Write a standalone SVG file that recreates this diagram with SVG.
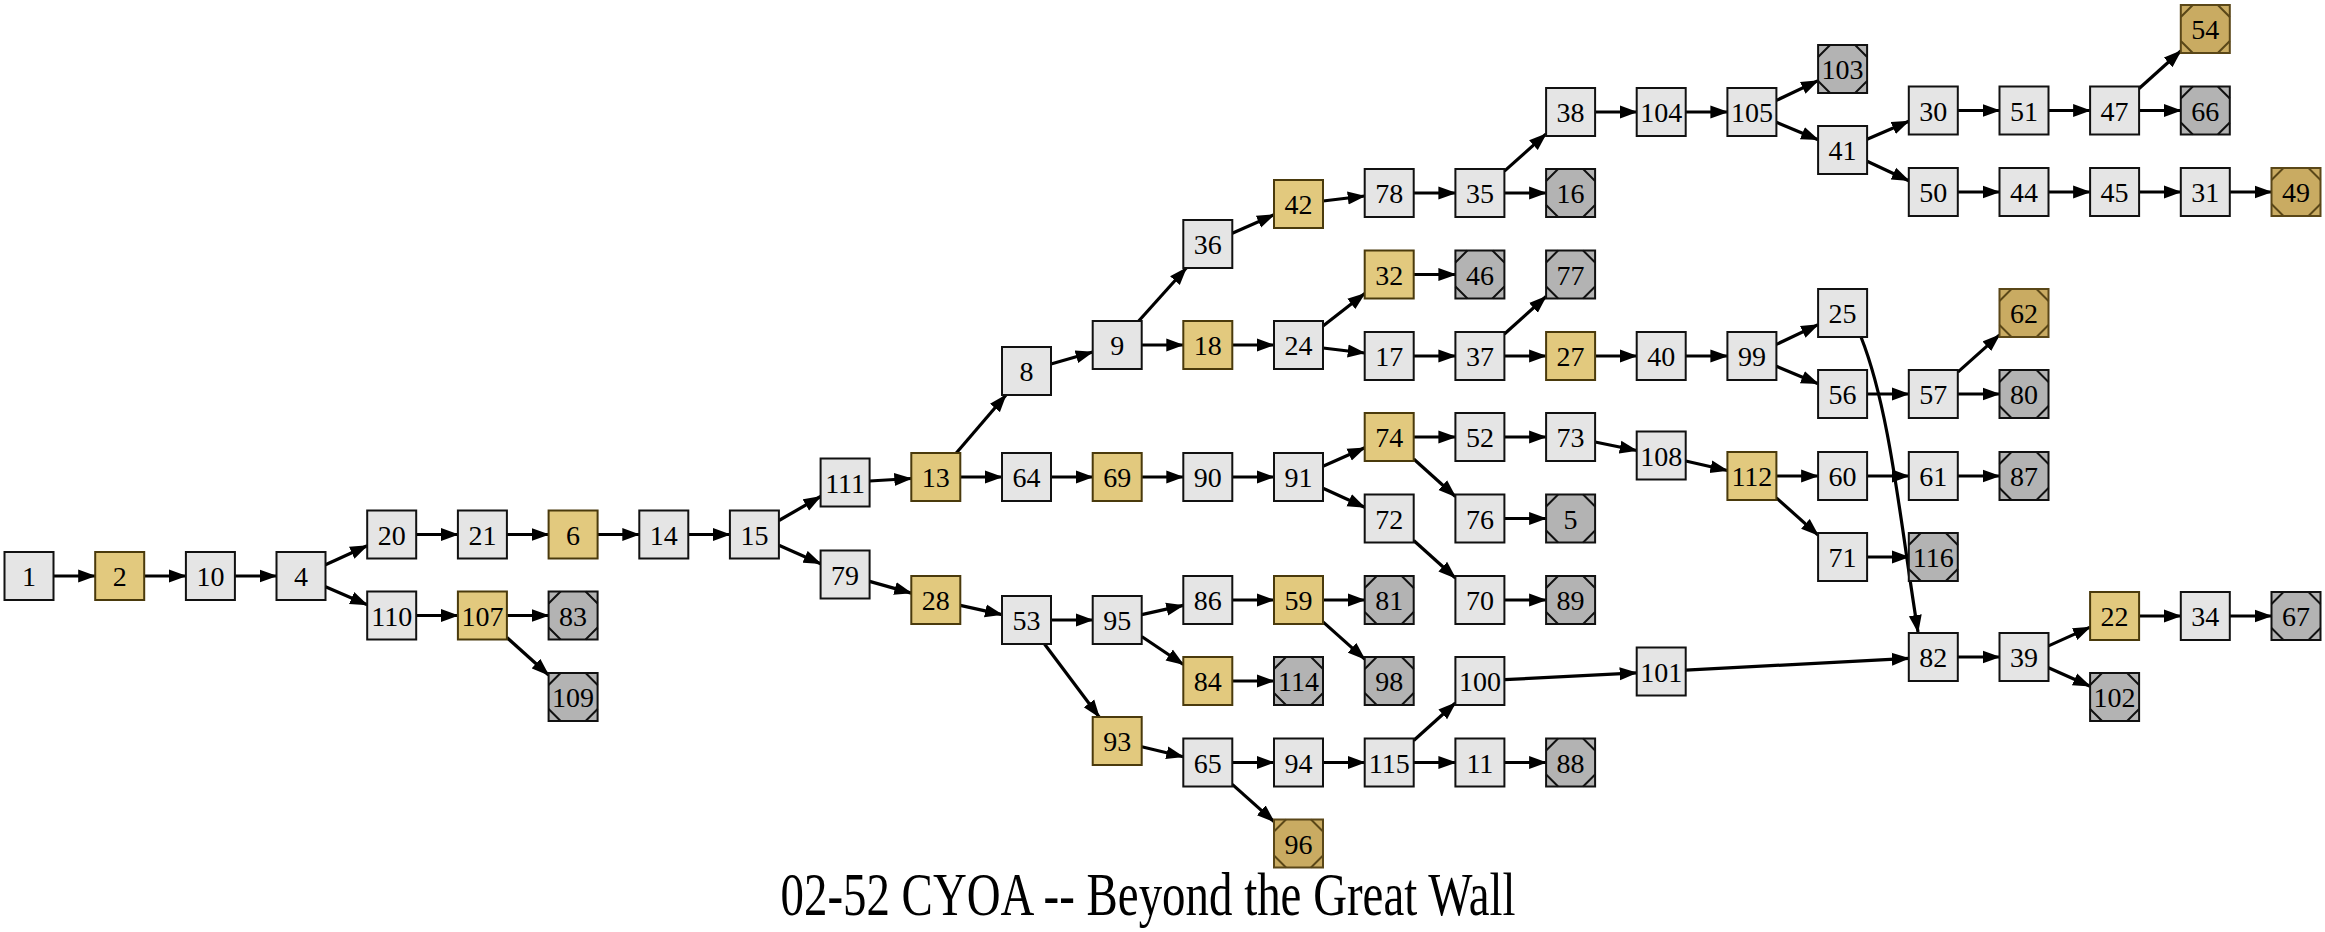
<svg xmlns="http://www.w3.org/2000/svg" xmlns:xlink="http://www.w3.org/1999/xlink" width="2325" height="932" viewBox="0 0 2325 932">
<style>
.p{fill:#e5e5e5;stroke:#111;stroke-width:2}
.g{fill:#e2c97e;stroke:#4a3a0c;stroke-width:2}
.t{fill:#b3b3b3;stroke:#111;stroke-width:2}
.tg{fill:#c9ab62;stroke:#5a4718;stroke-width:2}
.oc{stroke:#111;stroke-width:2;fill:none}
.ocg{stroke:#5a4718;stroke-width:2;fill:none}
text{font-family:"Liberation Serif","Times New Roman",serif;font-size:28px;text-anchor:middle;fill:#000}
g[id^="n"] text{transform:translateY(1px)}
.title{font-size:62px}
#edges line,#edges path{stroke:#000;stroke-width:3.2;fill:none;marker-end:url(#ah)}
</style>
<defs>
<marker id="ah" markerUnits="userSpaceOnUse" markerWidth="18" markerHeight="14" refX="17" refY="7" orient="auto"><path d="M0,0.5 L18,7 L0,13.5 z" fill="#000"/></marker>
<path id="oct" d="M0,12 L12,0 M37,0 L49,12 M49,36 L37,48 M12,48 L0,36"/>
</defs>
<rect width="2325" height="932" fill="#fff"/>
<g id="edges">
<line x1="53.5" y1="576" x2="95.2" y2="576"/>
<line x1="144.2" y1="576" x2="185.9" y2="576"/>
<line x1="234.9" y1="576" x2="276.5" y2="576"/>
<line x1="325.5" y1="564.8" x2="367.2" y2="545.7"/>
<line x1="325.5" y1="586.7" x2="367.2" y2="604.8"/>
<line x1="416.2" y1="534.5" x2="457.9" y2="534.5"/>
<line x1="506.9" y1="534.5" x2="548.6" y2="534.5"/>
<line x1="597.6" y1="534.5" x2="639.3" y2="534.5"/>
<line x1="688.3" y1="534.5" x2="729.9" y2="534.5"/>
<line x1="778.9" y1="520.5" x2="820.6" y2="496.5"/>
<line x1="778.9" y1="545.3" x2="820.6" y2="563.7"/>
<line x1="416.2" y1="615.5" x2="457.9" y2="615.5"/>
<line x1="506.9" y1="615.5" x2="548.6" y2="615.5"/>
<line x1="506.9" y1="637.5" x2="548.6" y2="675"/>
<line x1="869.6" y1="481" x2="911.3" y2="478.5"/>
<line x1="956.3" y1="453" x2="1006" y2="395"/>
<line x1="960.3" y1="477" x2="1002" y2="477"/>
<line x1="869.6" y1="581.4" x2="911.3" y2="593.1"/>
<line x1="960.3" y1="605.4" x2="1002" y2="614.6"/>
<line x1="1051" y1="364" x2="1092.7" y2="352"/>
<line x1="1138.7" y1="321" x2="1186.3" y2="268"/>
<line x1="1141.7" y1="345" x2="1183.3" y2="345"/>
<line x1="1232.3" y1="233.2" x2="1274" y2="214.8"/>
<line x1="1323" y1="201" x2="1364.7" y2="196"/>
<line x1="1413.7" y1="193" x2="1455.4" y2="193"/>
<line x1="1504.4" y1="171.1" x2="1546.1" y2="133.9"/>
<line x1="1504.4" y1="193" x2="1546.1" y2="193"/>
<line x1="1595.1" y1="112" x2="1636.7" y2="112"/>
<line x1="1685.7" y1="112" x2="1727.4" y2="112"/>
<line x1="1776.4" y1="100.4" x2="1818.1" y2="80.6"/>
<line x1="1776.4" y1="122.3" x2="1818.1" y2="139.7"/>
<line x1="1867.1" y1="139.3" x2="1908.8" y2="121.2"/>
<line x1="1867.1" y1="161.3" x2="1908.8" y2="180.7"/>
<line x1="1957.8" y1="110.5" x2="1999.5" y2="110.5"/>
<line x1="2048.5" y1="110.5" x2="2090.1" y2="110.5"/>
<line x1="2139.1" y1="88.5" x2="2180.8" y2="51"/>
<line x1="2139.1" y1="110.5" x2="2180.8" y2="110.5"/>
<line x1="1957.8" y1="192" x2="1999.5" y2="192"/>
<line x1="2048.5" y1="192" x2="2090.1" y2="192"/>
<line x1="2139.1" y1="192" x2="2180.8" y2="192"/>
<line x1="2229.8" y1="192" x2="2271.5" y2="192"/>
<line x1="1232.3" y1="345" x2="1274" y2="345"/>
<line x1="1323" y1="326" x2="1364.7" y2="293.5"/>
<line x1="1323" y1="348" x2="1364.7" y2="353"/>
<line x1="1413.7" y1="274.5" x2="1455.4" y2="274.5"/>
<line x1="1413.7" y1="356" x2="1455.4" y2="356"/>
<line x1="1504.4" y1="334" x2="1546.1" y2="296.5"/>
<line x1="1504.4" y1="356" x2="1546.1" y2="356"/>
<line x1="1595.1" y1="356" x2="1636.7" y2="356"/>
<line x1="1685.7" y1="356" x2="1727.4" y2="356"/>
<line x1="1776.4" y1="344.4" x2="1818.1" y2="324.6"/>
<line x1="1776.4" y1="366.3" x2="1818.1" y2="383.7"/>
<path d="M1861,337 C1890,410 1900,520 1918,632"/>
<line x1="1867.1" y1="394" x2="1908.8" y2="394"/>
<line x1="1957.8" y1="372.1" x2="1999.5" y2="334.9"/>
<line x1="1957.8" y1="394" x2="1999.5" y2="394"/>
<line x1="1051" y1="477" x2="1092.7" y2="477"/>
<line x1="1141.7" y1="477" x2="1183.3" y2="477"/>
<line x1="1232.3" y1="477" x2="1274" y2="477"/>
<line x1="1323" y1="466.2" x2="1364.7" y2="447.8"/>
<line x1="1323" y1="488.2" x2="1364.7" y2="507.3"/>
<line x1="1413.7" y1="437" x2="1455.4" y2="437"/>
<line x1="1413.7" y1="459" x2="1455.4" y2="496.5"/>
<line x1="1504.4" y1="437" x2="1546.1" y2="437"/>
<line x1="1595.1" y1="442" x2="1636.7" y2="450.5"/>
<line x1="1685.7" y1="461" x2="1727.4" y2="470.5"/>
<line x1="1776.4" y1="476" x2="1818.1" y2="476"/>
<line x1="1776.4" y1="497.9" x2="1818.1" y2="535.1"/>
<line x1="1867.1" y1="476" x2="1908.8" y2="476"/>
<line x1="1957.8" y1="476" x2="1999.5" y2="476"/>
<line x1="1867.1" y1="557" x2="1908.8" y2="557"/>
<line x1="1504.4" y1="518.5" x2="1546.1" y2="518.5"/>
<line x1="1413.7" y1="540.5" x2="1455.4" y2="578"/>
<line x1="1504.4" y1="600" x2="1546.1" y2="600"/>
<line x1="1051" y1="620" x2="1092.7" y2="620"/>
<line x1="1044.5" y1="644" x2="1099.2" y2="717"/>
<line x1="1141.7" y1="614.6" x2="1183.3" y2="605.4"/>
<line x1="1141.7" y1="636.5" x2="1183.3" y2="664.5"/>
<line x1="1232.3" y1="600" x2="1274" y2="600"/>
<line x1="1323" y1="600" x2="1364.7" y2="600"/>
<line x1="1323" y1="621.9" x2="1364.7" y2="659.1"/>
<line x1="1232.3" y1="681" x2="1274" y2="681"/>
<line x1="1141.7" y1="746.8" x2="1183.3" y2="756.7"/>
<line x1="1232.3" y1="762.5" x2="1274" y2="762.5"/>
<line x1="1232.3" y1="784.4" x2="1274" y2="821.6"/>
<line x1="1323" y1="762.5" x2="1364.7" y2="762.5"/>
<line x1="1413.7" y1="740.5" x2="1455.4" y2="703"/>
<line x1="1413.7" y1="762.5" x2="1455.4" y2="762.5"/>
<line x1="1504.4" y1="762.5" x2="1546.1" y2="762.5"/>
<line x1="1504.4" y1="679.7" x2="1636.7" y2="672.8"/>
<line x1="1685.7" y1="670.2" x2="1908.8" y2="658.3"/>
<line x1="1957.8" y1="657" x2="1999.5" y2="657"/>
<line x1="2048.5" y1="645.9" x2="2090.1" y2="627.1"/>
<line x1="2048.5" y1="667.8" x2="2090.1" y2="686.2"/>
<line x1="2139.1" y1="616" x2="2180.8" y2="616"/>
<line x1="2229.8" y1="616" x2="2271.5" y2="616"/>
</g>
<g id="n1"><rect class="p" x="4.5" y="552" width="49" height="48"/><text x="29" y="585">1</text></g>
<g id="n2"><rect class="g" x="95.2" y="552" width="49" height="48"/><text x="119.7" y="585">2</text></g>
<g id="n10"><rect class="p" x="185.9" y="552" width="49" height="48"/><text x="210.4" y="585">10</text></g>
<g id="n4"><rect class="p" x="276.5" y="552" width="49" height="48"/><text x="301" y="585">4</text></g>
<g id="n20"><rect class="p" x="367.2" y="510.5" width="49" height="48"/><text x="391.7" y="543.5">20</text></g>
<g id="n110"><rect class="p" x="367.2" y="591.5" width="49" height="48"/><text x="391.7" y="624.5">110</text></g>
<g id="n21"><rect class="p" x="457.9" y="510.5" width="49" height="48"/><text x="482.4" y="543.5">21</text></g>
<g id="n107"><rect class="g" x="457.9" y="591.5" width="49" height="48"/><text x="482.4" y="624.5">107</text></g>
<g id="n6"><rect class="g" x="548.6" y="510.5" width="49" height="48"/><text x="573.1" y="543.5">6</text></g>
<g id="n83"><rect class="t" x="548.6" y="591.5" width="49" height="48"/><use href="#oct" class="oc" x="548.6" y="591.5"/><text x="573.1" y="624.5">83</text></g>
<g id="n109"><rect class="t" x="548.6" y="673" width="49" height="48"/><use href="#oct" class="oc" x="548.6" y="673"/><text x="573.1" y="706">109</text></g>
<g id="n14"><rect class="p" x="639.3" y="510.5" width="49" height="48"/><text x="663.8" y="543.5">14</text></g>
<g id="n15"><rect class="p" x="729.9" y="510.5" width="49" height="48"/><text x="754.4" y="543.5">15</text></g>
<g id="n111"><rect class="p" x="820.6" y="458.5" width="49" height="48"/><text x="845.1" y="491.5">111</text></g>
<g id="n79"><rect class="p" x="820.6" y="550.5" width="49" height="48"/><text x="845.1" y="583.5">79</text></g>
<g id="n13"><rect class="g" x="911.3" y="453" width="49" height="48"/><text x="935.8" y="486">13</text></g>
<g id="n28"><rect class="g" x="911.3" y="576" width="49" height="48"/><text x="935.8" y="609">28</text></g>
<g id="n8"><rect class="p" x="1002" y="347" width="49" height="48"/><text x="1026.5" y="380">8</text></g>
<g id="n64"><rect class="p" x="1002" y="453" width="49" height="48"/><text x="1026.5" y="486">64</text></g>
<g id="n53"><rect class="p" x="1002" y="596" width="49" height="48"/><text x="1026.5" y="629">53</text></g>
<g id="n9"><rect class="p" x="1092.7" y="321" width="49" height="48"/><text x="1117.2" y="354">9</text></g>
<g id="n69"><rect class="g" x="1092.7" y="453" width="49" height="48"/><text x="1117.2" y="486">69</text></g>
<g id="n95"><rect class="p" x="1092.7" y="596" width="49" height="48"/><text x="1117.2" y="629">95</text></g>
<g id="n93"><rect class="g" x="1092.7" y="717" width="49" height="48"/><text x="1117.2" y="750">93</text></g>
<g id="n36"><rect class="p" x="1183.3" y="220" width="49" height="48"/><text x="1207.8" y="253">36</text></g>
<g id="n18"><rect class="g" x="1183.3" y="321" width="49" height="48"/><text x="1207.8" y="354">18</text></g>
<g id="n90"><rect class="p" x="1183.3" y="453" width="49" height="48"/><text x="1207.8" y="486">90</text></g>
<g id="n86"><rect class="p" x="1183.3" y="576" width="49" height="48"/><text x="1207.8" y="609">86</text></g>
<g id="n84"><rect class="g" x="1183.3" y="657" width="49" height="48"/><text x="1207.8" y="690">84</text></g>
<g id="n65"><rect class="p" x="1183.3" y="738.5" width="49" height="48"/><text x="1207.8" y="771.5">65</text></g>
<g id="n42"><rect class="g" x="1274" y="180" width="49" height="48"/><text x="1298.5" y="213">42</text></g>
<g id="n24"><rect class="p" x="1274" y="321" width="49" height="48"/><text x="1298.5" y="354">24</text></g>
<g id="n91"><rect class="p" x="1274" y="453" width="49" height="48"/><text x="1298.5" y="486">91</text></g>
<g id="n59"><rect class="g" x="1274" y="576" width="49" height="48"/><text x="1298.5" y="609">59</text></g>
<g id="n114"><rect class="t" x="1274" y="657" width="49" height="48"/><use href="#oct" class="oc" x="1274" y="657"/><text x="1298.5" y="690">114</text></g>
<g id="n94"><rect class="p" x="1274" y="738.5" width="49" height="48"/><text x="1298.5" y="771.5">94</text></g>
<g id="n96"><rect class="tg" x="1274" y="819.5" width="49" height="48"/><use href="#oct" class="ocg" x="1274" y="819.5"/><text x="1298.5" y="852.5">96</text></g>
<g id="n78"><rect class="p" x="1364.7" y="169" width="49" height="48"/><text x="1389.2" y="202">78</text></g>
<g id="n32"><rect class="g" x="1364.7" y="250.5" width="49" height="48"/><text x="1389.2" y="283.5">32</text></g>
<g id="n17"><rect class="p" x="1364.7" y="332" width="49" height="48"/><text x="1389.2" y="365">17</text></g>
<g id="n74"><rect class="g" x="1364.7" y="413" width="49" height="48"/><text x="1389.2" y="446">74</text></g>
<g id="n72"><rect class="p" x="1364.7" y="494.5" width="49" height="48"/><text x="1389.2" y="527.5">72</text></g>
<g id="n81"><rect class="t" x="1364.7" y="576" width="49" height="48"/><use href="#oct" class="oc" x="1364.7" y="576"/><text x="1389.2" y="609">81</text></g>
<g id="n98"><rect class="t" x="1364.7" y="657" width="49" height="48"/><use href="#oct" class="oc" x="1364.7" y="657"/><text x="1389.2" y="690">98</text></g>
<g id="n115"><rect class="p" x="1364.7" y="738.5" width="49" height="48"/><text x="1389.2" y="771.5">115</text></g>
<g id="n35"><rect class="p" x="1455.4" y="169" width="49" height="48"/><text x="1479.9" y="202">35</text></g>
<g id="n46"><rect class="t" x="1455.4" y="250.5" width="49" height="48"/><use href="#oct" class="oc" x="1455.4" y="250.5"/><text x="1479.9" y="283.5">46</text></g>
<g id="n37"><rect class="p" x="1455.4" y="332" width="49" height="48"/><text x="1479.9" y="365">37</text></g>
<g id="n52"><rect class="p" x="1455.4" y="413" width="49" height="48"/><text x="1479.9" y="446">52</text></g>
<g id="n76"><rect class="p" x="1455.4" y="494.5" width="49" height="48"/><text x="1479.9" y="527.5">76</text></g>
<g id="n70"><rect class="p" x="1455.4" y="576" width="49" height="48"/><text x="1479.9" y="609">70</text></g>
<g id="n100"><rect class="p" x="1455.4" y="657" width="49" height="48"/><text x="1479.9" y="690">100</text></g>
<g id="n11"><rect class="p" x="1455.4" y="738.5" width="49" height="48"/><text x="1479.9" y="771.5">11</text></g>
<g id="n38"><rect class="p" x="1546.1" y="88" width="49" height="48"/><text x="1570.6" y="121">38</text></g>
<g id="n16"><rect class="t" x="1546.1" y="169" width="49" height="48"/><use href="#oct" class="oc" x="1546.1" y="169"/><text x="1570.6" y="202">16</text></g>
<g id="n77"><rect class="t" x="1546.1" y="250.5" width="49" height="48"/><use href="#oct" class="oc" x="1546.1" y="250.5"/><text x="1570.6" y="283.5">77</text></g>
<g id="n27"><rect class="g" x="1546.1" y="332" width="49" height="48"/><text x="1570.6" y="365">27</text></g>
<g id="n73"><rect class="p" x="1546.1" y="413" width="49" height="48"/><text x="1570.6" y="446">73</text></g>
<g id="n5"><rect class="t" x="1546.1" y="494.5" width="49" height="48"/><use href="#oct" class="oc" x="1546.1" y="494.5"/><text x="1570.6" y="527.5">5</text></g>
<g id="n89"><rect class="t" x="1546.1" y="576" width="49" height="48"/><use href="#oct" class="oc" x="1546.1" y="576"/><text x="1570.6" y="609">89</text></g>
<g id="n88"><rect class="t" x="1546.1" y="738.5" width="49" height="48"/><use href="#oct" class="oc" x="1546.1" y="738.5"/><text x="1570.6" y="771.5">88</text></g>
<g id="n104"><rect class="p" x="1636.7" y="88" width="49" height="48"/><text x="1661.2" y="121">104</text></g>
<g id="n40"><rect class="p" x="1636.7" y="332" width="49" height="48"/><text x="1661.2" y="365">40</text></g>
<g id="n108"><rect class="p" x="1636.7" y="431.5" width="49" height="48"/><text x="1661.2" y="464.5">108</text></g>
<g id="n101"><rect class="p" x="1636.7" y="647.5" width="49" height="48"/><text x="1661.2" y="680.5">101</text></g>
<g id="n105"><rect class="p" x="1727.4" y="88" width="49" height="48"/><text x="1751.9" y="121">105</text></g>
<g id="n99"><rect class="p" x="1727.4" y="332" width="49" height="48"/><text x="1751.9" y="365">99</text></g>
<g id="n112"><rect class="g" x="1727.4" y="452" width="49" height="48"/><text x="1751.9" y="485">112</text></g>
<g id="n103"><rect class="t" x="1818.1" y="45" width="49" height="48"/><use href="#oct" class="oc" x="1818.1" y="45"/><text x="1842.6" y="78">103</text></g>
<g id="n41"><rect class="p" x="1818.1" y="126" width="49" height="48"/><text x="1842.6" y="159">41</text></g>
<g id="n25"><rect class="p" x="1818.1" y="289" width="49" height="48"/><text x="1842.6" y="322">25</text></g>
<g id="n56"><rect class="p" x="1818.1" y="370" width="49" height="48"/><text x="1842.6" y="403">56</text></g>
<g id="n60"><rect class="p" x="1818.1" y="452" width="49" height="48"/><text x="1842.6" y="485">60</text></g>
<g id="n71"><rect class="p" x="1818.1" y="533" width="49" height="48"/><text x="1842.6" y="566">71</text></g>
<g id="n30"><rect class="p" x="1908.8" y="86.5" width="49" height="48"/><text x="1933.3" y="119.5">30</text></g>
<g id="n50"><rect class="p" x="1908.8" y="168" width="49" height="48"/><text x="1933.3" y="201">50</text></g>
<g id="n57"><rect class="p" x="1908.8" y="370" width="49" height="48"/><text x="1933.3" y="403">57</text></g>
<g id="n61"><rect class="p" x="1908.8" y="452" width="49" height="48"/><text x="1933.3" y="485">61</text></g>
<g id="n116"><rect class="t" x="1908.8" y="533" width="49" height="48"/><use href="#oct" class="oc" x="1908.8" y="533"/><text x="1933.3" y="566">116</text></g>
<g id="n82"><rect class="p" x="1908.8" y="633" width="49" height="48"/><text x="1933.3" y="666">82</text></g>
<g id="n51"><rect class="p" x="1999.5" y="86.5" width="49" height="48"/><text x="2024" y="119.5">51</text></g>
<g id="n44"><rect class="p" x="1999.5" y="168" width="49" height="48"/><text x="2024" y="201">44</text></g>
<g id="n62"><rect class="tg" x="1999.5" y="289" width="49" height="48"/><use href="#oct" class="ocg" x="1999.5" y="289"/><text x="2024" y="322">62</text></g>
<g id="n80"><rect class="t" x="1999.5" y="370" width="49" height="48"/><use href="#oct" class="oc" x="1999.5" y="370"/><text x="2024" y="403">80</text></g>
<g id="n87"><rect class="t" x="1999.5" y="452" width="49" height="48"/><use href="#oct" class="oc" x="1999.5" y="452"/><text x="2024" y="485">87</text></g>
<g id="n39"><rect class="p" x="1999.5" y="633" width="49" height="48"/><text x="2024" y="666">39</text></g>
<g id="n47"><rect class="p" x="2090.1" y="86.5" width="49" height="48"/><text x="2114.6" y="119.5">47</text></g>
<g id="n45"><rect class="p" x="2090.1" y="168" width="49" height="48"/><text x="2114.6" y="201">45</text></g>
<g id="n22"><rect class="g" x="2090.1" y="592" width="49" height="48"/><text x="2114.6" y="625">22</text></g>
<g id="n102"><rect class="t" x="2090.1" y="673" width="49" height="48"/><use href="#oct" class="oc" x="2090.1" y="673"/><text x="2114.6" y="706">102</text></g>
<g id="n54"><rect class="tg" x="2180.8" y="5" width="49" height="48"/><use href="#oct" class="ocg" x="2180.8" y="5"/><text x="2205.3" y="38">54</text></g>
<g id="n66"><rect class="t" x="2180.8" y="86.5" width="49" height="48"/><use href="#oct" class="oc" x="2180.8" y="86.5"/><text x="2205.3" y="119.5">66</text></g>
<g id="n31"><rect class="p" x="2180.8" y="168" width="49" height="48"/><text x="2205.3" y="201">31</text></g>
<g id="n34"><rect class="p" x="2180.8" y="592" width="49" height="48"/><text x="2205.3" y="625">34</text></g>
<g id="n49"><rect class="tg" x="2271.5" y="168" width="49" height="48"/><use href="#oct" class="ocg" x="2271.5" y="168"/><text x="2296" y="201">49</text></g>
<g id="n67"><rect class="t" x="2271.5" y="592" width="49" height="48"/><use href="#oct" class="oc" x="2271.5" y="592"/><text x="2296" y="625">67</text></g>
<text class="title" x="1148" y="915" textLength="735" lengthAdjust="spacingAndGlyphs">02-52 CYOA -- Beyond the Great Wall</text>
</svg>
